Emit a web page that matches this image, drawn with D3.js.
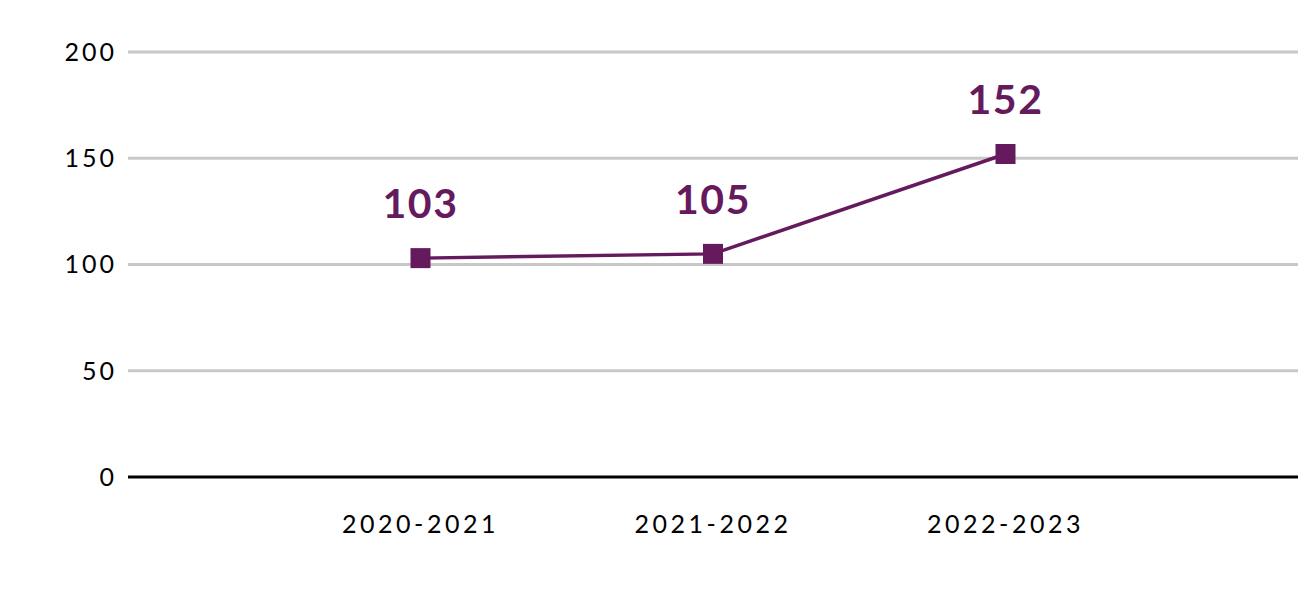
<!DOCTYPE html>
<html>
<head>
<meta charset="utf-8">
<script src="https://cdn.jsdelivr.net/npm/d3@7"></script>
<style>
  html, body { margin: 0; padding: 0; background: #fff; }
  svg { display: block; }
</style>
</head>
<body>
<script>
const categories = ["2020-2021", "2021-2022", "2022-2023"];
const values = [103, 105, 152];
const yTicks = [0, 50, 100, 150, 200];

const W = 1299, H = 591;
const margin = { left: 128, right: 1, top: 52, bottom: 114 };
const color = "#661a5e";
const font = "Lato, 'Open Sans', sans-serif";

const svg = d3.select("body").append("svg").attr("width", W).attr("height", H);

const x = d3.scalePoint().domain(categories).range([margin.left, W - margin.right]).padding(1);
const y = d3.scaleLinear().domain([0, 200]).range([H - margin.bottom, margin.top]);

// gridlines
svg.append("g").selectAll("line").data(yTicks.filter(d => d !== 0)).join("line")
  .attr("x1", margin.left).attr("x2", W - margin.right)
  .attr("y1", d => y(d)).attr("y2", d => y(d))
  .attr("stroke", "#c8c8c8").attr("stroke-width", 3);

// baseline
svg.append("line")
  .attr("x1", margin.left).attr("x2", W - margin.right)
  .attr("y1", y(0)).attr("y2", y(0))
  .attr("stroke", "#000").attr("stroke-width", 3);

// y tick labels
svg.append("g").selectAll("text").data(yTicks).join("text")
  .attr("x", 117).attr("y", d => y(d)).attr("dy", "0.35em")
  .attr("text-anchor", "end")
  .attr("font-family", font).attr("font-size", 25).attr("letter-spacing", 3)
  .attr("fill", "#000")
  .text(d => d);

// x labels
svg.append("g").selectAll("text").data(categories).join("text")
  .attr("x", d => x(d)).attr("y", 533)
  .attr("text-anchor", "middle")
  .attr("font-family", font).attr("font-size", 25).attr("letter-spacing", 3.5)
  .attr("fill", "#000")
  .text(d => d);

const data = categories.map((c, i) => ({ c, v: values[i] }));

// line
svg.append("path").datum(data)
  .attr("fill", "none").attr("stroke", color).attr("stroke-width", 3.5)
  .attr("d", d3.line().x(d => x(d.c)).y(d => y(d.v)));

// markers
const s = 20;
svg.append("g").selectAll("rect").data(data).join("rect")
  .attr("x", d => x(d.c) - s / 2).attr("y", d => y(d.v) - s / 2)
  .attr("width", s).attr("height", s).attr("fill", color);

// value labels
svg.append("g").selectAll("text").data(data).join("text")
  .attr("x", d => x(d.c)).attr("y", d => y(d.v) - 40)
  .attr("text-anchor", "middle")
  .attr("font-family", font).attr("font-size", 41).attr("font-weight", "bold")
  .attr("letter-spacing", 1.5)
  .attr("fill", color)
  .text(d => d.v);
</script>
</body>
</html>
